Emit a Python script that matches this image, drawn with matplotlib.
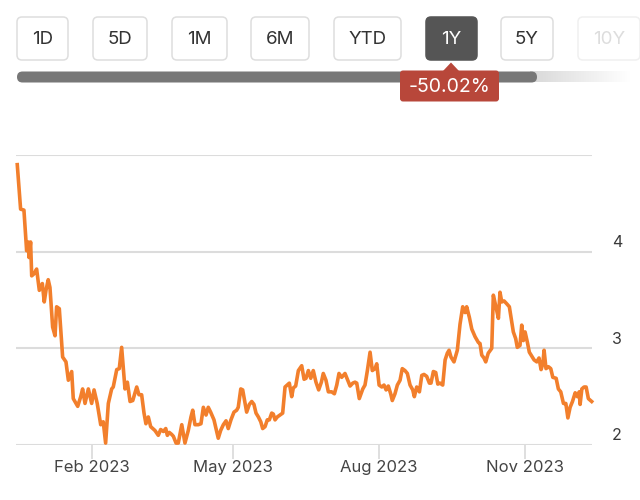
import numpy as np
import pandas as pd
import matplotlib
matplotlib.use("Agg")
import matplotlib.pyplot as plt
from matplotlib.patches import FancyBboxPatch, Polygon
from matplotlib.transforms import ScaledTranslation

plt.rcParams['font.family'] = ['Inter', 'DejaVu Sans']

# --- data: days since first point, closing price ---
start_date = "2022-12-16"
day_offsets = [
    0.0, 2.1, 4.2, 5.9, 6.9, 7.4, 8.4, 9.1, 10.5, 12.2, 13.9, 15.8, 17.0, 18.1, 19.5,
    20.6, 22.3, 23.8, 24.8, 26.5, 28.6, 30.7, 32.2, 34.3, 35.3, 38.1, 40.0, 41.2, 42.7,
    44.8, 46.9, 48.4, 50.4, 52.6, 54.2, 55.7, 57.4, 59.5, 60.5, 62.7, 64.3, 65.8, 67.9,
    69.4, 71.1, 72.8, 75.3, 76.7, 78.4, 79.9, 81.1, 82.6, 84.1, 86.8, 88.9, 90.4, 92.1,
    93.6, 94.6, 95.8, 97.3, 98.4, 100.1, 101.5, 103.7, 105.7, 107.8, 109.5, 110.6, 112.0,
    114.1, 115.8, 117.3, 119.0, 120.4, 121.9, 124.0, 126.7, 128.2, 129.9, 131.6, 133.0,
    134.7, 136.6, 138.3, 139.3, 140.9, 142.1, 144.6, 146.3, 147.8, 149.2, 150.5, 152.0,
    153.5, 154.7, 156.2, 157.6, 158.9, 160.4, 161.4, 162.5, 163.9, 165.6, 167.3, 168.8,
    170.2, 171.5, 173.0, 174.0, 175.5, 177.2, 179.3, 180.8, 182.0, 183.5, 185.0, 186.6,
    188.3, 190.0, 191.7, 192.9, 194.6, 196.1, 198.2, 199.9, 201.4, 202.8, 204.5, 206.6,
    208.3, 209.8, 211.5, 212.9, 214.0, 215.6, 217.8, 219.2, 220.7, 222.4, 223.8, 225.5,
    226.6, 228.1, 229.8, 231.2, 232.5, 233.9, 235.4, 236.4, 238.1, 239.6, 241.3, 242.7,
    244.4, 245.9, 247.6, 249.3, 250.3, 251.8, 253.5, 255.0, 256.4, 258.1, 259.8, 260.8,
    262.3, 263.8, 265.1, 266.5, 268.2, 269.7, 271.1, 272.2, 273.4, 275.3, 277.4, 279.1,
    280.8, 282.3, 283.3, 285.0, 286.5, 288.6, 290.7, 291.7, 292.8, 294.2, 295.3, 296.9,
    299.1, 300.1, 301.6, 303.3, 304.3, 305.4, 306.9, 308.6, 310.2, 311.7, 312.7, 314.2,
    315.2, 316.9, 318.0, 319.0, 320.1, 321.6, 322.8, 324.3, 325.8, 327.5, 328.9, 330.2,
    331.3, 332.1, 333.3, 334.8, 336.3, 337.6, 339.7, 341.1, 342.6, 344.3, 345.8, 347.1,
    348.5, 350.0, 351.7, 353.1, 354.2, 354.8, 355.9, 357.3, 358.6, 360.0, 362.1,
]
prices = [
    4.90, 4.44, 4.43, 4.01, 4.10, 3.94, 4.10, 3.75, 3.77, 3.82, 3.60, 3.67, 3.48, 3.60, 3.71,
    3.63, 3.22, 3.13, 3.43, 3.41, 2.91, 2.86, 2.67, 2.76, 2.48, 2.40, 2.50, 2.58, 2.43,
    2.58, 2.43, 2.57, 2.43, 2.21, 2.24, 2.02, 2.43, 2.58, 2.60, 2.78, 2.79, 3.01, 2.58,
    2.65, 2.45, 2.46, 2.60, 2.52, 2.52, 2.33, 2.22, 2.29, 2.19, 2.15, 2.10, 2.16, 2.14,
    2.17, 2.10, 2.13, 2.11, 2.09, 2.02, 2.02, 2.21, 2.02, 2.15, 2.29, 2.36, 2.21,
    2.21, 2.22, 2.39, 2.31, 2.39, 2.34, 2.26, 2.07, 2.15, 2.21, 2.25, 2.17,
    2.26, 2.34, 2.36, 2.39, 2.58, 2.57, 2.34, 2.42, 2.45, 2.42, 2.33, 2.29,
    2.24, 2.17, 2.19, 2.26, 2.26, 2.33, 2.32, 2.26, 2.29, 2.31, 2.33, 2.60,
    2.62, 2.64, 2.50, 2.59, 2.61, 2.77, 2.82, 2.68, 2.69, 2.77, 2.69, 2.77,
    2.65, 2.57, 2.65, 2.74, 2.67, 2.55, 2.55, 2.53, 2.62, 2.74, 2.70, 2.74,
    2.67, 2.61, 2.64, 2.65, 2.64, 2.48, 2.58, 2.62, 2.77, 2.96, 2.77, 2.79,
    2.84, 2.62, 2.60, 2.62, 2.57, 2.61, 2.53, 2.46, 2.53, 2.62, 2.67, 2.79,
    2.77, 2.74, 2.62, 2.57, 2.50, 2.60, 2.55, 2.72, 2.73, 2.71, 2.64, 2.64,
    2.76, 2.75, 2.63, 2.64, 2.62, 2.88, 2.95, 2.98, 2.91, 2.86, 2.98, 3.25,
    3.43, 3.37, 3.43, 3.32, 3.20, 3.12, 3.06, 3.05, 2.93, 2.90, 2.86, 2.95,
    3.00, 3.55, 3.44, 3.31, 3.58, 3.48, 3.49, 3.46, 3.43, 3.27, 3.17, 3.10,
    3.01, 3.03, 3.24, 3.08, 3.17, 3.06, 2.96, 2.92, 2.88, 2.86, 2.90, 2.78,
    2.84, 2.98, 2.79, 2.81, 2.79, 2.70, 2.69, 2.58, 2.55, 2.43, 2.43, 2.28,
    2.39, 2.45, 2.54, 2.50, 2.55, 2.42, 2.58, 2.60, 2.60, 2.48, 2.45,
]
grid_values = [2, 3, 4, 5]
label_values = [2, 3, 4]
xtick_dates = ["2023-02-01", "2023-05-01", "2023-08-01", "2023-11-01"]
xtick_labels = ["Feb 2023", "May 2023", "Aug 2023", "Nov 2023"]
range_buttons = ["1D", "5D", "1M", "6M", "YTD", "1Y", "5Y", "10Y"]
active_button = "1Y"
change_text = "-50.02%"

dates = pd.Timestamp(start_date) + pd.to_timedelta(day_offsets, unit="D")

fig = plt.figure(figsize=(6.4, 5.0), dpi=100)
fig.patch.set_facecolor("white")

# ---- chart ----
ax = fig.add_axes([16 / 640, 1 - 445 / 500, 576 / 640, 290 / 500])
ax.plot(dates, prices, color="#F27F2C", lw=2.6, solid_joinstyle="round", clip_on=False, zorder=3)
ax.set_ylim(2, 5)
ax.set_xlim(dates[0] - pd.Timedelta(days=0.8), dates[-1] + pd.Timedelta(days=0.2))
for s in ax.spines.values():
    s.set_visible(False)
ax.set_yticks(grid_values)
ax.yaxis.grid(True, color="#dcdcdc", lw=1.5)
ax.tick_params(axis="y", length=0, labelleft=False, labelright=False)
ax.set_axisbelow(True)

# y labels on the right, sitting a little above their grid line
off = ScaledTranslation(20 / 100, 9 / 100, fig.dpi_scale_trans)
for v in label_values:
    ax.text(1.0, v, str(v), transform=ax.get_yaxis_transform() + off,
            ha="left", va="center", fontsize=11.5, color="#3a3a3a")

ax.set_xticks(pd.to_datetime(xtick_dates))
ax.set_xticklabels(xtick_labels)
ax.tick_params(axis="x", direction="out", length=10, width=1.1, color="#d6d6d6",
               labelsize=12, labelcolor="#444444", pad=0.5)

# ---- range selector UI ----
ui = fig.add_axes([0, 0, 1, 1], zorder=5)
ui.set_xlim(0, 640)
ui.set_ylim(500, 0)
ui.axis("off")
ui.patch.set_alpha(0)

btn_x = [(17, 68), (93, 147), (172, 227), (251, 309), (334, 401), (426, 477), (501, 553), (578, 640)]
for (x0, x1), name in zip(btn_x, range_buttons):
    if name == active_button:
        fc, ec, tc = "#555555", "#555555", "white"
    elif name == "10Y":
        fc, ec, tc = "white", "#f0f0f0", "#dddddd"
    else:
        fc, ec, tc = "white", "#dedede", "#333333"
    ui.add_patch(FancyBboxPatch((x0, 17), x1 - x0, 43, boxstyle="round,pad=0,rounding_size=5",
                                fc=fc, ec=ec, lw=1.1))
    ui.text((x0 + x1) / 2, 39.5, name, ha="center", va="center", fontsize=13.5, color=tc)

# progress bar with faded tail
grad = np.linspace(0, 1, 256)[None, :]
ui.imshow(grad, extent=(530, 630, 82.5, 71.5), cmap=matplotlib.colors.LinearSegmentedColormap.from_list(
    "fade", ["#d8d8d8", "#ffffff"]), aspect="auto", zorder=1)
ui.add_patch(FancyBboxPatch((17, 71.5), 520, 11, boxstyle="round,pad=0,rounding_size=5.5",
                            fc="#777777", ec="none", zorder=2))
ui.set_xlim(0, 640)
ui.set_ylim(500, 0)

# change badge
ui.add_patch(FancyBboxPatch((400, 70.5), 99, 31, boxstyle="round,pad=0,rounding_size=3",
                            fc="#B8473A", ec="none", zorder=3))
ui.add_patch(Polygon([(443, 71), (451, 62.5), (459, 71)], closed=True, fc="#B8473A", ec="none", zorder=3))
ui.text(449.5, 87, change_text, ha="center", va="center", fontsize=14, color="white", zorder=4)

fig.savefig("out.png", dpi=100)
